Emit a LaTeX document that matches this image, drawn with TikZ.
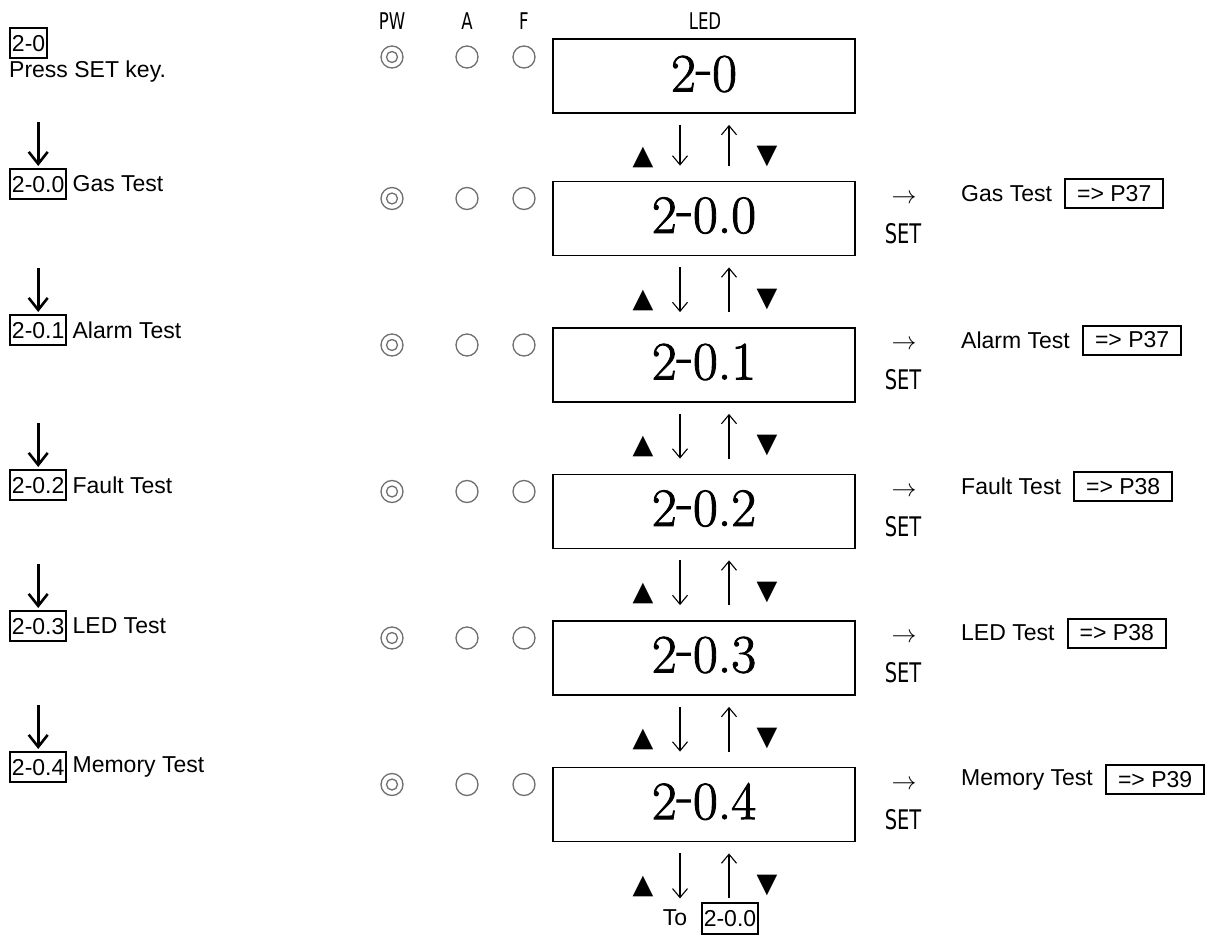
\documentclass[tikz,border=0pt]{standalone}
\usepackage{fontspec}
\newfontfamily\arial{Liberation Sans}
\newfontfamily\dejavu{DejaVu Sans}
\newfontfamily\ledfont{Latin Modern Roman}[FakeBold=1.6]
\usetikzlibrary{arrows.meta,calc}
\definecolor{ledgray}{HTML}{707070}
\tikzset{
  lbl/.style={font=\arial\fontsize{23}{27}\selectfont, inner sep=0pt, anchor=west},
  numbox/.style={draw, line width=2pt, font=\arial\fontsize{23}{27}\selectfont, inner xsep=2pt, inner ysep=7pt, text depth=0pt, anchor=west},
  refbox/.style={draw, line width=2pt, font=\arial\fontsize{23}{27}\selectfont, inner xsep=12pt, inner ysep=0pt, minimum height=29pt, anchor=west},
  ledbox/.style={draw, line width=1.8pt, minimum width=302pt, minimum height=74pt, inner sep=0pt},
  ledtxt/.style={font=\ledfont\fontsize{54}{60}\selectfont, inner sep=0pt},
  hdr/.style={font=\dejavu\fontsize{23}{26}\selectfont, inner sep=0pt},
  setlbl/.style={font=\dejavu\fontsize{27}{30}\selectfont, inner sep=0pt},
  arr/.style={font=\fontsize{25}{25}\selectfont, inner sep=0pt},
  led/.style={circle, draw=ledgray, line width=1.3pt, minimum size=22pt, inner sep=0pt},
  ledin/.style={circle, draw=ledgray, line width=1.3pt, minimum size=11pt, inner sep=0pt},
  tri/.style={font=\dejavu\fontsize{27}{27}\selectfont, inner sep=0pt},
  thinarrow/.style={line width=1.1pt, -{Straight Barb[length=9pt,width=15pt,line width=1.1pt]}},
  bigarrow/.style={line width=2.6pt, -{Straight Barb[length=12pt,width=19pt,line width=2.6pt]}}
}
\begin{document}
\begin{tikzpicture}[x=1pt,y=-1pt]
\useasboundingbox[fill=white] (0,0) rectangle (1226,936);
% headers
\node[hdr] (hpw) at (392,21) {\scalebox{0.72}[1]{PW}};
\node[hdr] (ha) at (467,21) {\scalebox{0.72}[1]{A}};
\node[hdr] (hf) at (524,21) {\scalebox{0.72}[1]{F}};
\node[hdr] (hled) at (705,21) {\scalebox{0.72}[1]{LED}};
% row 0
\node[ledbox] (b0) at (704,76) {};
\node[ledtxt] (t0) at (704,74) {2\raisebox{.12em}{-}0};
\node[led] (p0) at (392,57) {};
\node[ledin] (pi0) at (392,57) {};
\node[led] (a0) at (467,57) {};
\node[led] (f0) at (524,57) {};
\node[numbox] (n0) at (9,43) {2-0};
\node[lbl] (d0) at (9,72) {Press SET key.};
% rows
\foreach \i/\y/\ly/\code/\name/\pg in {1/218.5/184/0.0/Gas Test/37,2/365/330/0.1/Alarm Test/37,3/511.5/485/0.2/Fault Test/38,4/658/626/0.3/LED Test/38,5/804.5/767/0.4/Memory Test/39}{
  \node[ledbox] (b\i) at (704,\y) {};
  \node[ledtxt] (t\i) at (704,\y-3) {2\raisebox{.12em}{-}\code};
  \node[led] (p\i) at (392,\y-20) {};
  \node[ledin] (pi\i) at (392,\y-20) {};
  \node[led] (a\i) at (467,\y-20) {};
  \node[led] (f\i) at (524,\y-20) {};
  \node[arr] (ar\i) at (904,\y-20) {$\rightarrow$};
  \node[setlbl] (s\i) at (903,\y+15) {\scalebox{0.72}[1]{SET}};
  \node[lbl] (r\i) at (961,\y-25) {\name};
  \node[refbox] (rp\i) at ([xshift=12pt]r\i.east) {=> P\pg};
  \node[numbox] (n\i) at (9,\ly) {2-\code};
  \node[lbl] (l\i) at ([xshift=5pt]n\i.east) {\name};
  \draw[bigarrow] ([yshift=46pt]n\i.north) -- ([yshift=2pt]n\i.north);
}
% between-box symbols
\foreach \k/\n in {0/1,1/2,2/3,3/4,4/5}{
  \draw[thinarrow] ([xshift=-24pt,yshift=-11pt]b\k.south) -- ([xshift=-24pt,yshift=15pt]b\n.north);
  \draw[thinarrow] ([xshift=25pt,yshift=15pt]b\n.north) -- ([xshift=25pt,yshift=-11pt]b\k.south);
  \node[tri] (up\k) at ([xshift=-61pt,yshift=-44pt]b\k.south) {▲};
  \node[tri] (dn\k) at ([xshift=63pt,yshift=-43pt]b\k.south) {▼};
}
% bottom
\node[lbl, anchor=center] (to) at (675,918) {To};
\node[numbox, anchor=center] (tobox) at (730,918.5) {2-0.0};
\draw[thinarrow] ([xshift=-24pt,yshift=-11pt]b5.south) -- ([xshift=-24pt,yshift=-56pt]b5.south);
\draw[thinarrow] ([xshift=25pt,yshift=-56pt]b5.south) -- ([xshift=25pt,yshift=-11pt]b5.south);
\node[tri] (up5) at ([xshift=-61pt,yshift=-44pt]b5.south) {▲};
\node[tri] (dn5) at ([xshift=63pt,yshift=-43pt]b5.south) {▼};
\end{tikzpicture}
\end{document}
